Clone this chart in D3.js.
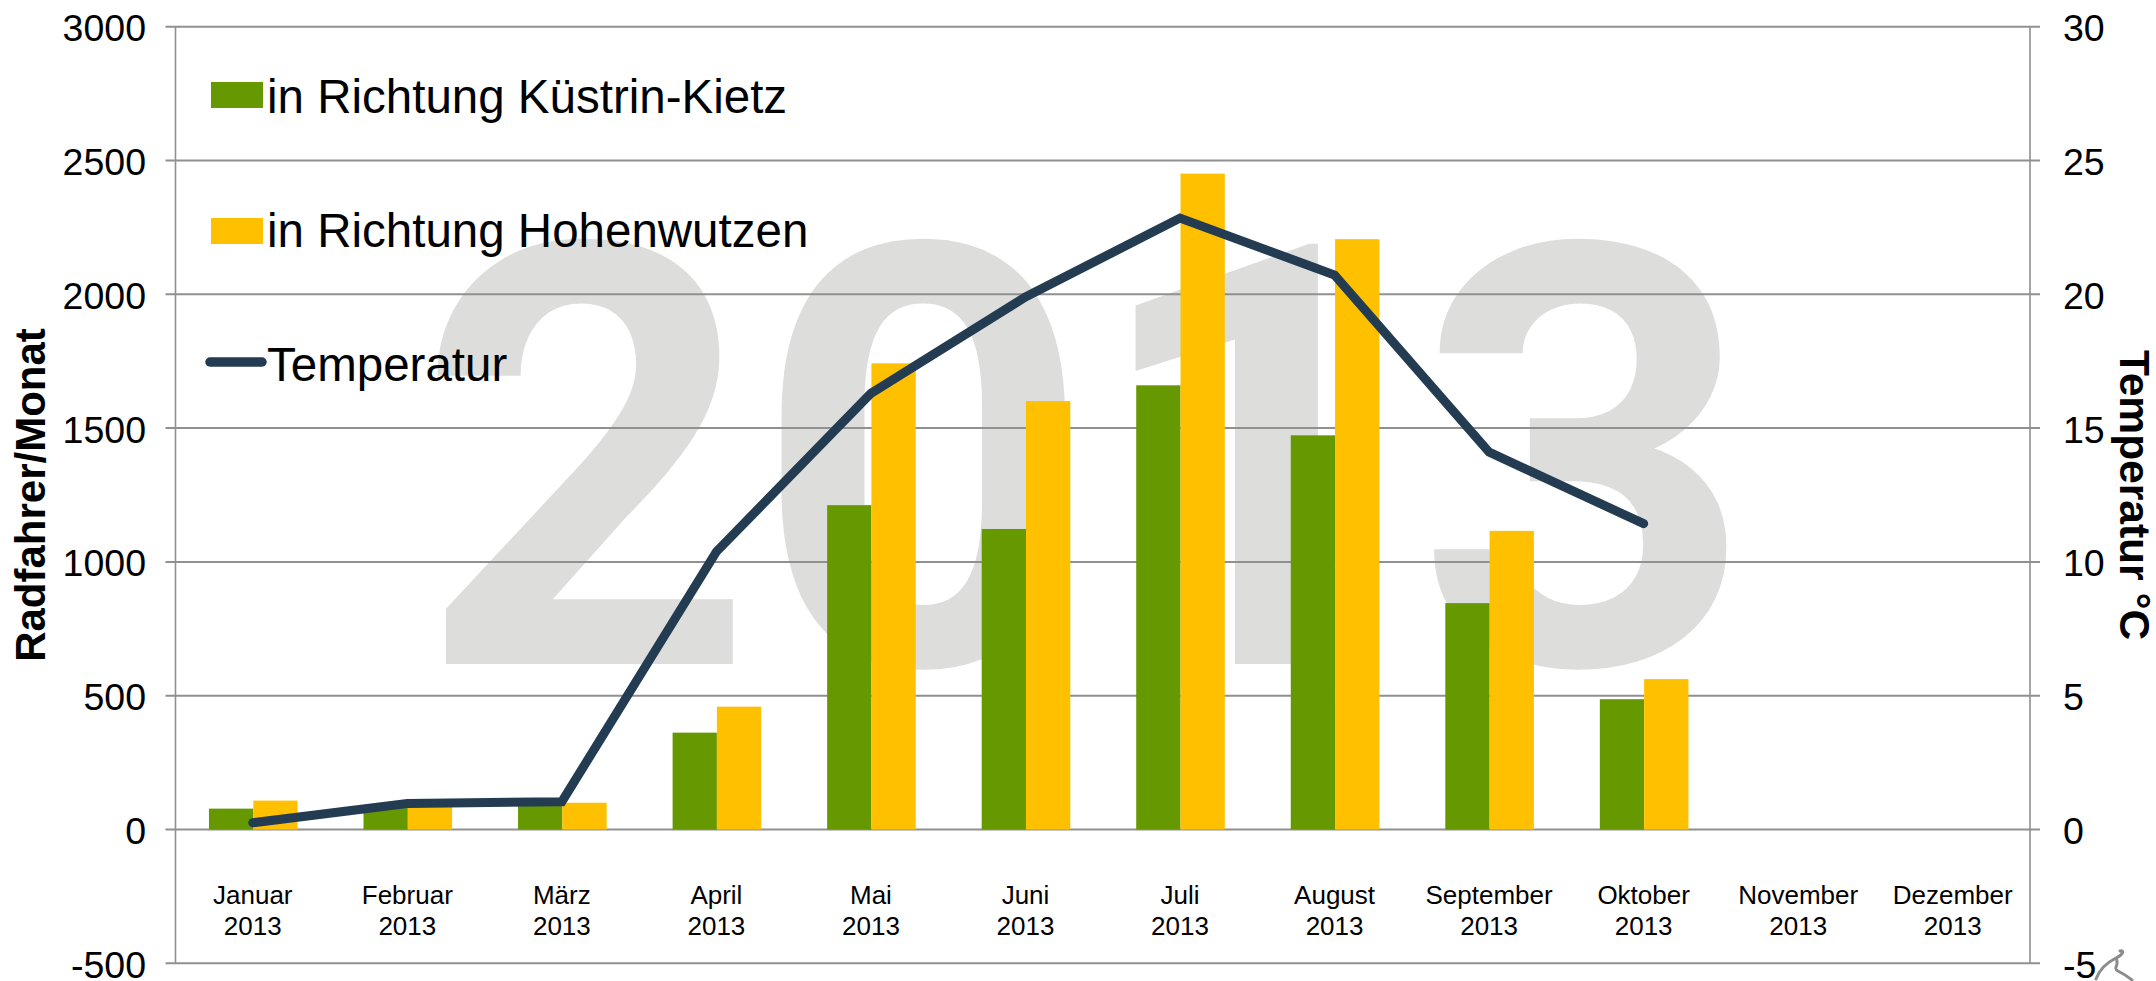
<!DOCTYPE html>
<html><head><meta charset="utf-8">
<script src="https://cdn.jsdelivr.net/npm/d3@7"></script>
<style>
html,body{margin:0;padding:0;background:#fff;overflow:hidden}
svg{display:block}
text{font-family:"Liberation Sans",Arial,sans-serif;fill:#000}
</style></head><body>
<svg id="c" width="2156" height="981"></svg>
<script>
const months = ["Januar","Februar","März","April","Mai","Juni","Juli","August","September","Oktober","November","Dezember"];
const yearLabel = "2013";
const seriesNames = ["in Richtung Küstrin-Kietz","in Richtung Hohenwutzen","Temperatur"];
const kuestrin = [78,90,100,362,1212,1123,1660,1473,846,487,null,null];
const hohenwutzen = [108,97,100,459,1742,1601,2451,2206,1116,562,null,null];
const temperatur = [0.25,0.97,1.04,10.38,16.3,19.9,22.85,20.72,14.1,11.43,null,null];
const leftTicks = [-500,0,500,1000,1500,2000,2500,3000];
const rightTicks = [-5,0,5,10,15,20,25,30];
const colors = {green:"#669900",yellow:"#ffc000",line:"#243c52",grid:"#909090",mark:"#dddedc"};

const svg = d3.select("#c");
const L=175.5,R=2030,T=26.7,B=963.3;
const x = d3.scaleBand().domain(months).range([L,R]).paddingInner(0).paddingOuter(0);
const inner = d3.scaleBand().domain([0,1]).range([0,88.6]);
const yL = d3.scaleLinear().domain([-500,3000]).range([B,T]);
const yR = d3.scaleLinear().domain([-5,30]).range([B,T]);
const cx = m => x(m)+x.bandwidth()/2;

// watermark
svg.append("text").attr("x","417 754 1087 1416").attr("y",664)
  .style("font-family","Roboto").attr("font-size",590).attr("font-weight","bold").style("fill",colors.mark)
  .text(yearLabel);

// grid
svg.append("g").selectAll("line").data(leftTicks).join("line")
  .attr("x1",L-10).attr("x2",R+10).attr("y1",d=>yL(d)).attr("y2",d=>yL(d))
  .attr("stroke",colors.grid).attr("stroke-width",2);
[L,R].forEach(v=>svg.append("line").attr("x1",v).attr("x2",v).attr("y1",T).attr("y2",B)
  .attr("stroke",colors.grid).attr("stroke-width",1.6));

// bars
[[kuestrin,colors.green,0],[hohenwutzen,colors.yellow,1]].forEach(([vals,col,i])=>{
  svg.append("g").selectAll("rect").data(months.map((m,k)=>({m,v:vals[k]})).filter(d=>d.v!=null)).join("rect")
    .attr("x",d=>cx(d.m)-43.8+inner(i)).attr("width",inner.bandwidth())
    .attr("y",d=>yL(d.v)).attr("height",d=>yL(0)-yL(d.v)).attr("fill",col);
});

// line
const lineGen = d3.line().defined(d=>d.v!=null).x(d=>cx(d.m)).y(d=>yR(d.v));
svg.append("path").datum(months.map((m,k)=>({m,v:temperatur[k]})))
  .attr("d",lineGen).attr("fill","none").attr("stroke",colors.line)
  .attr("stroke-width",9).attr("stroke-linecap","round").attr("stroke-linejoin","miter");

// axis labels
svg.append("g").selectAll("text").data(leftTicks).join("text")
  .attr("x",146).attr("y",d=>yL(d)+14.5).attr("text-anchor","end").attr("font-size",37.5).text(d=>d);
svg.append("g").selectAll("text").data(rightTicks).join("text")
  .attr("x",2063).attr("y",d=>yR(d)+14.5).attr("font-size",37.5).text(d=>d);

// category labels
const cat = svg.append("g").selectAll("text").data(months).join("text")
  .attr("text-anchor","middle").attr("font-size",26);
cat.append("tspan").attr("x",d=>cx(d)).attr("y",904).text(d=>d);
cat.append("tspan").attr("x",d=>cx(d)).attr("y",935).text(yearLabel);

// axis titles
svg.append("text").attr("transform","translate(45,495) rotate(-90)").attr("text-anchor","middle")
  .attr("font-size",42).attr("font-weight","bold").text("Radfahrer/Monat");
svg.append("text").attr("transform","translate(2120,495) rotate(90)").attr("text-anchor","middle")
  .attr("font-size",42.5).attr("font-weight","bold").text("Temperatur °C");

// legend
svg.append("rect").attr("x",211).attr("y",82).attr("width",52).attr("height",26).attr("fill",colors.green);
svg.append("rect").attr("x",211).attr("y",218).attr("width",52).attr("height",26).attr("fill",colors.yellow);
svg.append("line").attr("x1",210).attr("x2",262).attr("y1",362).attr("y2",362)
  .attr("stroke",colors.line).attr("stroke-width",9.5).attr("stroke-linecap","round");
svg.append("g").selectAll("text").data(seriesNames).join("text")
  .attr("x",267).attr("y",(d,i)=>[113,247,381][i]).attr("font-size",47.5).text(d=>d);

// corner logo fragment
svg.append("path").attr("d","M2096,979 C2100,968 2108,962 2116,958 C2124,954 2124,950 2120,951 M2116,958 C2120,966 2112,968 2118,971 C2124,974 2128,977 2132,980")
  .attr("fill","none").attr("stroke","#6f6f6f").attr("stroke-width",3).attr("stroke-linecap","round").attr("opacity",0.8);
</script></body></html>
